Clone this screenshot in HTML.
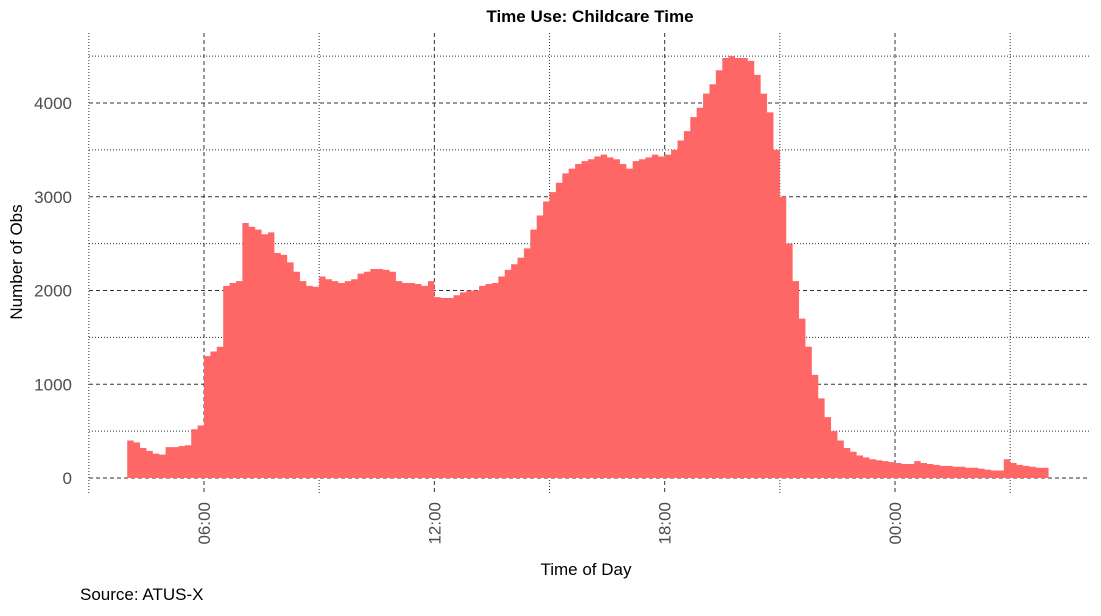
<!DOCTYPE html>
<html><head><meta charset="utf-8"><style>
body{margin:0;background:#fff;font-family:"Liberation Sans",sans-serif}
</style></head><body>
<svg id="chart" width="1101" height="611" xmlns="http://www.w3.org/2000/svg" font-family="Liberation Sans, sans-serif">
<text x="590" y="22" text-anchor="middle" font-size="17" font-weight="bold">Time Use: Childcare Time</text>
<g id="grid"></g>
<path id="area" fill="#ff6666"></path>
<g id="ticks"></g>
<text x="586" y="575" text-anchor="middle" font-size="17">Time of Day</text>
<text transform="translate(22,262) rotate(-90)" text-anchor="middle" font-size="17">Number of Obs</text>
<text x="80" y="600" font-size="17">Source: ATUS-X</text>
</svg>
<script>
// values every 10 minutes starting 04:00
const values=[400,380,320,290,260,250,330,330,340,350,520,560,1300,1350,1400,2050,2080,2100,2720,2680,2650,2600,2620,2400,2380,2300,2200,2100,2050,2040,2150,2120,2100,2080,2100,2120,2180,2200,2230,2230,2220,2200,2100,2080,2080,2070,2050,2100,1930,1920,1920,1950,1980,2000,2000,2050,2070,2080,2150,2220,2280,2350,2450,2650,2800,2950,3050,3150,3250,3300,3350,3380,3400,3430,3450,3420,3400,3350,3300,3380,3400,3420,3450,3430,3450,3500,3600,3700,3850,3950,4100,4200,4350,4480,4500,4480,4480,4450,4300,4100,3900,3500,3000,2500,2100,1700,1400,1100,850,650,500,400,320,280,240,220,200,190,180,170,160,150,150,180,160,150,140,130,130,120,120,110,110,100,90,80,80,200,160,140,130,120,110,110];
const yTicks=[0,1000,2000,3000,4000];
const xTickHours=[6,12,18,24];
const xTickLabels=["06:00","12:00","18:00","00:00"];
const startHour=4, stepMin=10;
const NS="http://www.w3.org/2000/svg";
const X=h=>204+(h-6)*38.39;
const Y=v=>478-v*0.09375;
const grid=document.getElementById('grid'),ticks=document.getElementById('ticks');
function line(x1,y1,x2,y2,dash,name){const l=document.createElementNS(NS,'line');
l.setAttribute('x1',x1);l.setAttribute('y1',y1);l.setAttribute('x2',x2);l.setAttribute('y2',y2);
l.setAttribute('stroke','#333');l.setAttribute('stroke-width','1');l.setAttribute('stroke-dasharray',dash);


grid.appendChild(l);}
for(let v=500;v<=4500;v+=1000)line(89,Y(v),1090,Y(v),'1,2','y-minor-grid');
for(let h=3;h<=27;h+=6)line(X(h),33,X(h),495,'1,2','x-minor-grid');
yTicks.forEach(v=>{line(89,Y(v),1090,Y(v),'4,3','y-major-grid');
const t=document.createElementNS(NS,'text');t.setAttribute('x',72);t.setAttribute('y',Y(v)+6);
t.setAttribute('text-anchor','end');t.setAttribute('font-size','17');t.setAttribute('fill','#4d4d4d');t.textContent=v;


ticks.appendChild(t);});
xTickHours.forEach((h,i)=>{line(X(h),33,X(h),495,'4,3','x-major-grid');
const t=document.createElementNS(NS,'text');t.setAttribute('transform',`translate(${X(h)+6},502) rotate(-90)`);
t.setAttribute('text-anchor','end');t.setAttribute('font-size','17');t.setAttribute('fill','#4d4d4d');t.textContent=xTickLabels[i];


ticks.appendChild(t);});
let d=`M${X(startHour)},${Y(0)}`;
values.forEach((v,i)=>{const h0=startHour+i*stepMin/60,h1=h0+stepMin/60;
d+=`L${X(h0)},${Y(v)}L${X(h1)},${Y(v)}`;});
d+=`L${X(startHour+values.length*stepMin/60)},${Y(0)}Z`;
document.getElementById('area').setAttribute('d',d);
</script>
</body></html>
